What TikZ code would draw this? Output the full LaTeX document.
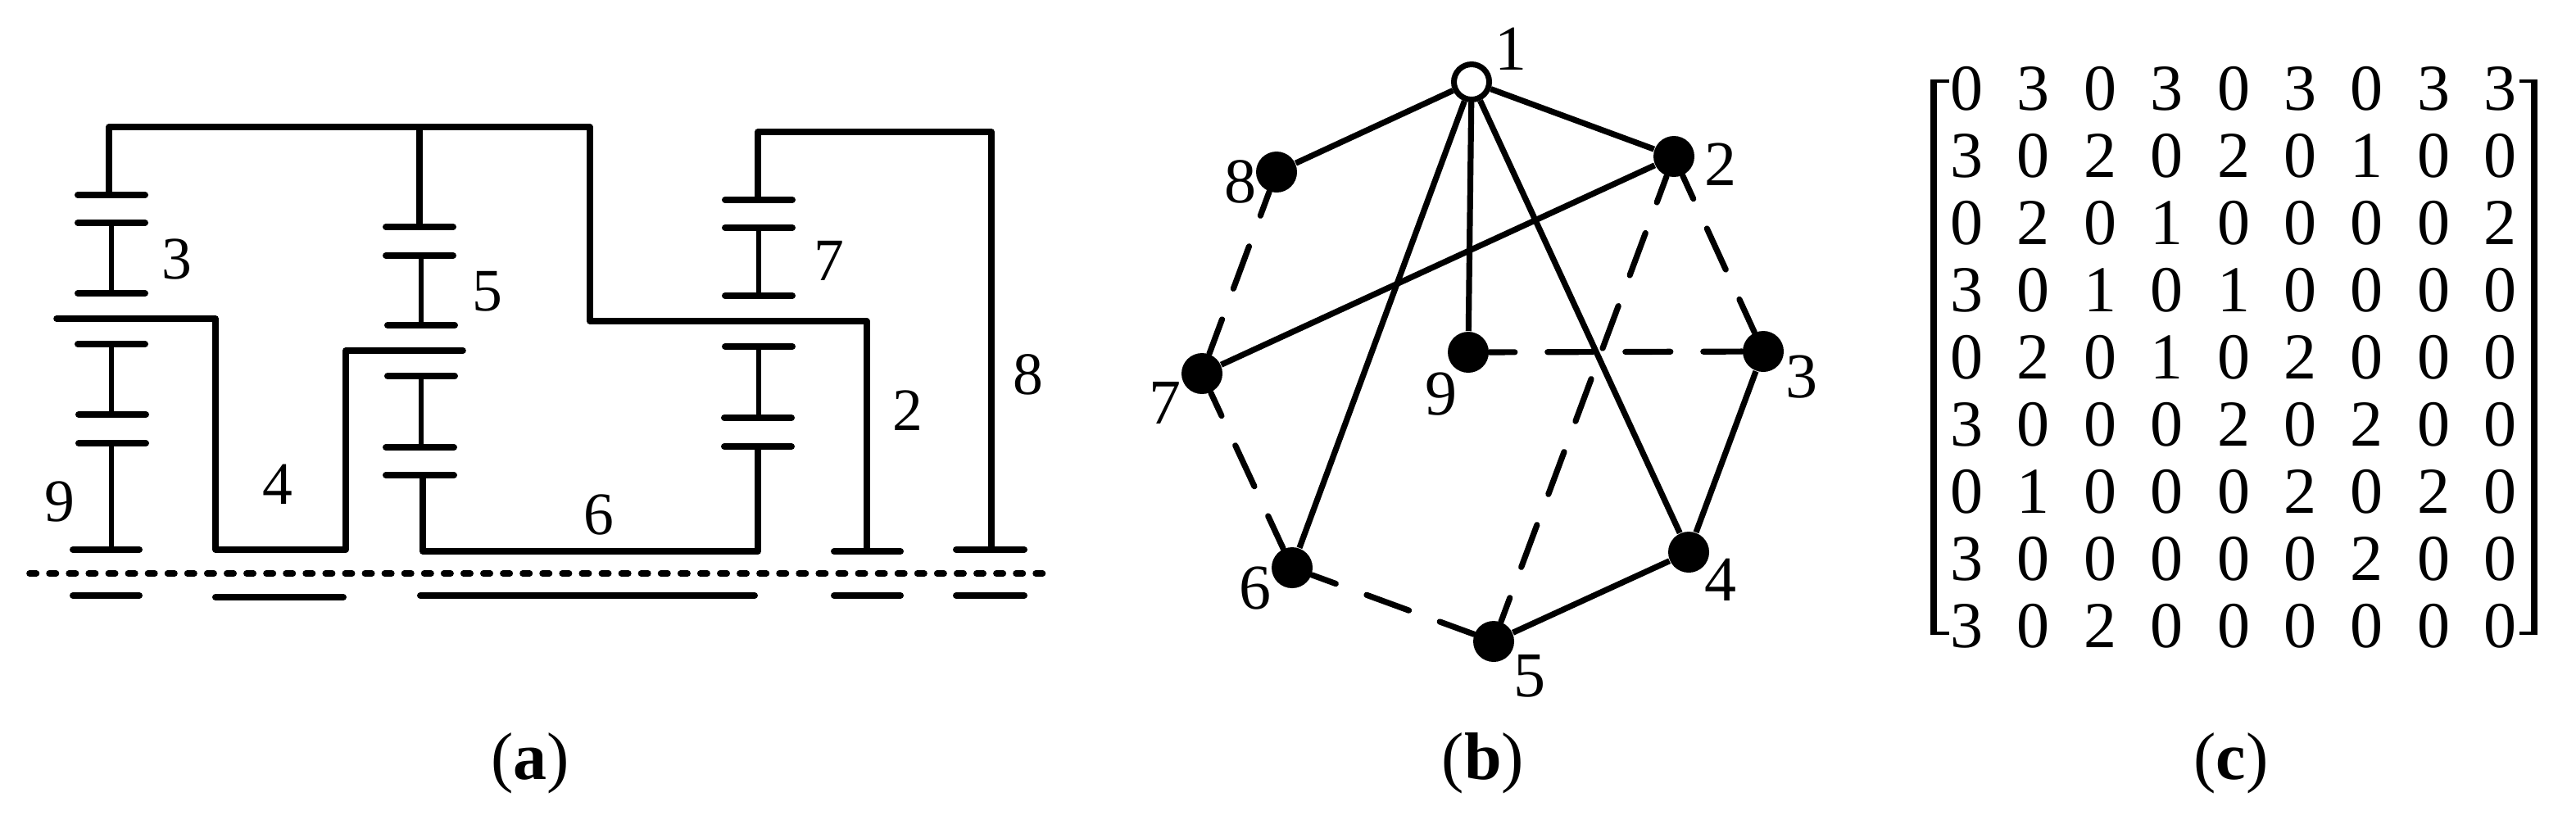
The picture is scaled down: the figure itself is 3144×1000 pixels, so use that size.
\documentclass[tikz,border=0pt]{standalone}
\usepackage{fontspec}
\setmainfont{Liberation Serif}
\usetikzlibrary{positioning}
\begin{document}
\begin{tikzpicture}[x=0.25pt,y=-0.25pt]
% STYLES
\tikzset{%
    shaft/.style={line width=1.9pt,line join=round,line cap=round},
    pin/.style={line width=1.65pt},
    gearbar/.style={line width=2pt,line cap=round},
    axis/.style={line width=1.9pt,line cap=round,dash pattern=on 2.1pt off 3.92pt},
    label/.style={inner sep=0pt,font=\fontsize{18.4}{20}\selectfont},
    graphlabel/.style={inner sep=0pt,font=\fontsize{19.5}{20}\selectfont},
    caption/.style={inner sep=0pt,font=\fontsize{20.5}{22}\selectfont},
    entry/.style={inner sep=0pt,font=\fontsize{20}{22}\selectfont},
    vertex/.style={circle,fill=black,inner sep=0pt,minimum size=12.5pt},
    ground/.style={circle,draw=black,fill=white,line width=1.75pt,inner sep=0pt,minimum size=10.75pt},
    link/.style={line width=1.8pt},
    virtual/.style={line width=1.8pt,line cap=round,dash pattern=on 13.75pt off 10pt,dash phase=6pt}
}
\useasboundingbox (0,0) rectangle (3144,1000);
% Draw gear train
\draw[shaft] (133,238) -- (133,155) -- (720,155) -- (720,392) -- (1058,392) -- (1058,673);
\draw[shaft] (512,155) -- (512,277);
\draw[shaft] (69,389) -- (263,389) -- (263,671) -- (422,671) -- (422,428) -- (565,428);
\draw[shaft] (516,580) -- (516,673) -- (925,673) -- (925,545);
\draw[shaft] (925,244) -- (925,161) -- (1210,161) -- (1210,671);
\foreach \xa/\ya/\yb in {136/272/358,136/420/506,136/541/671,514/312/397,514/459/546,926/278/361,926/423/510}
    \draw[pin] (\xa,\ya) -- (\xa,\yb);
\foreach \xa/\xb/\ya in {95/177/238,95/177/272,95/177/358,95/177/420,96/178/506,96/178/541,89/170/671,
    471/553/277,471/553/312,473/555/397,473/555/459,471/554/546,471/554/580,
    885/967/244,885/967/278,885/967/361,885/967/423,884/966/510,884/966/545,
    1018/1099/673,1167/1250/671,89/170/727,263/419/729,513/921/727,1018/1099/727,1167/1250/727}
    \draw[gearbar] (\xa,\ya) -- (\xb,\ya);
\draw[axis] (36,700) -- (1277,700);
\node[label] (g3) at (216,316) {3};
\node[label] (g5) at (595,356) {5};
\node[label] (g9) at (73,612) {9};
\node[label] (g4) at (339,591) {4};
\node[label] (g7) at (1012,318) {7};
\node[label] (g6) at (731,628) {6};
\node[label] (g2) at (1108,501) {2};
\node[label] (g8) at (1255,457) {8};
% Draw graph
\node[ground] (v1) at (1796,100) {};
\node[vertex] (v2) at (2043,191) {};
\node[vertex] (v3) at (2152,429) {};
\node[vertex] (v4) at (2061,674) {};
\node[vertex] (v5) at (1823,783) {};
\node[vertex] (v6) at (1577,693) {};
\node[vertex] (v7) at (1467,456) {};
\node[vertex] (v8) at (1558,210) {};
\node[vertex] (v9) at (1792,430) {};
\path[link]
    (v1) edge (v8)
    (v1) edge (v2)
    (v1) edge (v6)
    (v1) edge (v9)
    (v1) edge (v4)
    (v2) edge (v7)
    (v3) edge (v4)
    (v4) edge (v5);
\path[virtual]
    (v8) edge (v7)
    (v7) edge (v6)
    (v6) edge (v5)
    (v5) edge (v2)
    (v2) edge (v3)
    (v9) edge (v3);
\node[graphlabel] (l1) at (1844,60) {1};
\node[graphlabel] (l2) at (2100,201) {2};
\node[graphlabel] (l3) at (2199,460) {3};
\node[graphlabel] (l4) at (2100,708) {4};
\node[graphlabel] (l5) at (1867,825) {5};
\node[graphlabel] (l6) at (1532,718) {6};
\node[graphlabel] (l7) at (1422,492) {7};
\node[graphlabel] (l8) at (1514,222) {8};
\node[graphlabel] (l9) at (1759,481) {9};
% Draw matrix
\draw[line width=2.1pt] (2360,98) -- (2360,773);
\draw[line width=1pt] (2379,98.5) -- (2356,98.5) (2356,772.5) -- (2379,772.5);
\draw[line width=2.1pt] (3093,98) -- (3093,773);
\draw[line width=1pt] (3075,98.5) -- (3097,98.5) (3097,772.5) -- (3075,772.5);
\foreach \row [count=\i] in {{0,3,0,3,0,3,0,3,3},{3,0,2,0,2,0,1,0,0},{0,2,0,1,0,0,0,0,2},
    {3,0,1,0,1,0,0,0,0},{0,2,0,1,0,2,0,0,0},{3,0,0,0,2,0,2,0,0},
    {0,1,0,0,0,2,0,2,0},{3,0,0,0,0,0,2,0,0},{3,0,2,0,0,0,0,0,0}}
    \foreach \val [count=\j] in \row
        \node[entry] (m\i-\j) at ({2400.5+81.4*(\j-1)},{108+82*(\i-1)}) {\val};
% Captions
\node[caption] (capa) at (647,932) {(\textbf{a})};
\node[caption] (capb) at (1810,932) {(\textbf{b})};
\node[caption] (capc) at (2723,932) {(\textbf{c})};
\end{tikzpicture}
\end{document}
